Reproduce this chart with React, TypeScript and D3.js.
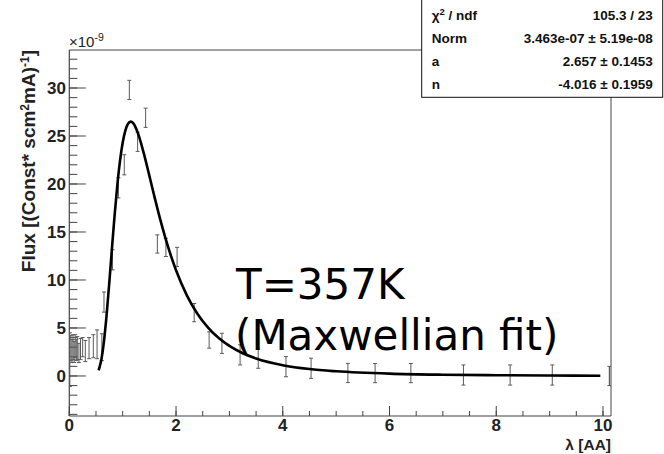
import React from "react";
import * as d3 from "d3";

// Measured points: wavelength (AA), flux (x1e-9), error (x1e-9)
const lambdaValues = [
  0.01, 0.03, 0.05, 0.07, 0.09, 0.11, 0.13, 0.15, 0.18, 0.21, 0.25, 0.3, 0.37, 0.45, 0.52, 0.61,
  0.65, 0.81, 0.92, 1.03, 1.125, 1.28, 1.43, 1.65, 1.81, 2.02, 2.34, 2.62, 2.86, 3.2, 3.54,
  4.06, 4.53, 5.22, 5.73, 6.4, 7.385, 8.26, 9.05, 10.12,
];
const fluxValues = [
  1.7, 2.9, 2.6, 3.0, 2.5, 3.1, 2.7, 2.9, 2.4, 2.8, 3.0, 2.6, 2.9, 3.1, 3.3, 3.0,
  7.7, 12.1, 19.6, 22.0, 29.8, 24.4, 26.9, 13.75, 13.4, 12.4, 6.6, 3.75, 3.4, 2.2, 1.8,
  0.97, 0.8, 0.31, 0.3, 0.3, 0.1, 0.1, 0.1, 0.0,
];
const fluxErrors = [
  2.8, 1.3, 1.2, 1.3, 1.1, 1.2, 1.1, 1.2, 1.0, 1.1, 1.0, 1.1, 1.1, 1.2, 1.5, 1.4,
  1.05, 1.05, 1.05, 1.05, 1.0, 1.0, 1.0, 0.95, 0.95, 1.0, 0.95, 0.85, 1.05, 1.05, 1.0,
  1.05, 1.05, 1.0, 1.0, 1.0, 1.05, 1.05, 1.05, 1.0,
];

// Fit curve
const fitX = [
  0.55, 0.6, 0.65, 0.7, 0.75, 0.8, 0.85, 0.9, 0.95, 1.0, 1.05, 1.1, 1.15, 1.2, 1.3, 1.4, 1.5,
  1.6, 1.7, 1.8, 2.0, 2.2, 2.4, 2.6, 2.8, 3.0, 3.25, 3.5, 4.0, 4.5, 5, 6, 7, 8, 9, 9.95,
];
const fitY = [
  0.59, 1.68, 3.63, 6.41, 9.76, 13.36, 16.81, 19.89, 22.41, 24.3, 25.57, 26.28, 26.5, 26.32,
  25.07, 23.11, 20.87, 18.58, 16.39, 14.39, 11.01, 8.43, 6.49, 5.04, 3.95, 3.13, 2.37, 1.82,
  1.12, 0.72, 0.49, 0.24, 0.13, 0.08, 0.05, 0.03,
];

const xMajorTicks = [0, 2, 4, 6, 8, 10];
const yMajorTicks = [0, 5, 10, 15, 20, 25, 30];

const statsLabels = ["χ", "Norm", "a", "n"];
const statsValues = ["105.3 / 23", "3.463e-07 ± 5.19e-08", "2.657 ± 0.1453", "-4.016 ± 0.1959"];

const W = 664;
const H = 454;
const L = 69.3, R = 611, T = 50, B = 416;

export default function App() {
  const x = d3.scaleLinear().domain([0, 10.15]).range([L, R]);
  const y = d3.scaleLinear().domain([-4.17, 33.96]).range([B, T]);

  const xMinor = d3.range(0, 10.01, 0.5);
  const yMinor = d3.range(-4, 34, 1);

  const line = d3
    .line<number>()
    .x((_, i) => x(fitX[i]))
    .y((d) => y(d))
    .curve(d3.curveMonotoneX);

  const font = "'Liberation Sans', Arial, Helvetica, sans-serif";
  const axisColor = "#444";
  const barColor = "#5a5a5a";
  const last = lambdaValues.length - 1;

  return (
    <svg
      width={W}
      height={H}
      style={{ position: "absolute", left: 0, top: 0, background: "#fff" }}
      fontFamily={font}
    >
      <rect x={0} y={0} width={W} height={H} fill="#fff" />
      <defs>
        <clipPath id="plotclip">
          <rect x={L} y={T} width={R - L} height={B - T} />
        </clipPath>
      </defs>

      {/* frame */}
      <line x1={L} x2={R} y1={T} y2={T} stroke={axisColor} strokeWidth={1} />
      <line x1={R} x2={R} y1={T} y2={B} stroke={axisColor} strokeWidth={1} />
      <line x1={L} x2={R} y1={B} y2={B} stroke={axisColor} strokeWidth={1.2} />
      <line x1={L} x2={L} y1={T} y2={B} stroke={axisColor} strokeWidth={1.2} />

      {/* y ticks */}
      {yMinor.map((v) => (
        <line key={"ym" + v} x1={L} x2={L + 8} y1={y(v)} y2={y(v)} stroke={axisColor} strokeWidth={1} />
      ))}
      {yMajorTicks.map((v) => (
        <g key={"yM" + v}>
          <line x1={L} x2={L + 16.5} y1={y(v)} y2={y(v)} stroke={axisColor} strokeWidth={1} />
          <text x={66} y={y(v) + 6} textAnchor="end" fontSize={17} fontWeight="bold" fill="#222">
            {v}
          </text>
        </g>
      ))}

      {/* x ticks */}
      {xMinor.map((v) => (
        <line key={"xm" + v} x1={x(v)} x2={x(v)} y1={B} y2={B - 5} stroke={axisColor} strokeWidth={1} />
      ))}
      {xMajorTicks.map((v) => (
        <g key={"xM" + v}>
          <line x1={x(v)} x2={x(v)} y1={B} y2={B - 10} stroke={axisColor} strokeWidth={1} />
          <text x={x(v)} y={431} textAnchor="middle" fontSize={17} fontWeight="bold" fill="#222">
            {v}
          </text>
        </g>
      ))}

      {/* exponent */}
      <text x={69} y={47} fontSize={15} fill="#222">
        ×10
        <tspan dy={-6} fontSize={10.5}>-9</tspan>
      </text>

      {/* axis titles */}
      <text
        transform={`translate(35,${T}) rotate(-90)`}
        textAnchor="end"
        fontSize={19}
        fontWeight="bold"
        fill="#222"
      >
        Flux [(Const* scm
        <tspan dy={-6} fontSize={12}>2</tspan>
        <tspan dy={6}>mA)</tspan>
        <tspan dy={-6} fontSize={12}>-1</tspan>
        <tspan dy={6}>]</tspan>
      </text>
      <text x={R} y={450} textAnchor="end" fontSize={15.5} fontWeight="bold" fill="#222">
        λ [AA]
      </text>

      {/* error bars */}
      <g clipPath="url(#plotclip)">
        {lambdaValues.map((lx, i) => {
          const cx = x(lx);
          const y1 = y(fluxValues[i] + fluxErrors[i]);
          const y0 = y(fluxValues[i] - fluxErrors[i]);
          return (
            <g key={"e" + i} stroke={barColor} strokeWidth={1}>
              <line x1={cx} x2={cx} y1={y1} y2={y0} />
              <line x1={cx - 2} x2={cx + 2} y1={y1} y2={y1} />
              <line x1={cx - 2} x2={cx + 2} y1={y0} y2={y0} />
            </g>
          );
        })}
      </g>
      <line
        x1={x(lambdaValues[last])}
        x2={x(lambdaValues[last])}
        y1={y(fluxValues[last] + fluxErrors[last])}
        y2={y(fluxValues[last] - fluxErrors[last])}
        stroke={barColor}
        strokeWidth={1}
      />

      {/* fit curve */}
      <path d={line(fitY) || ""} fill="none" stroke="#000" strokeWidth={2.6} strokeLinejoin="round" />

      {/* annotation */}
      <text x={236} y={299} fontSize={42} fontFamily="'DejaVu Sans', Verdana, sans-serif" fill="#000">
        T=357K
      </text>
      <text x={235} y={350} fontSize={42} fontFamily="'DejaVu Sans', Verdana, sans-serif" fill="#000">
        (Maxwellian fit)
      </text>

      {/* stats box */}
      <rect x={421.7} y={-5} width={241} height={102.3} fill="#fff" stroke="#111" strokeWidth={1} />
      {statsLabels.map((lab, i) => {
        const by = 20 + i * 23;
        return (
          <g key={"s" + i}>
            <text x={431.7} y={by} fontSize={13.5} fontWeight="bold" fill="#111">
              {lab}
              {i === 0 && (
                <>
                  <tspan dy={-5} fontSize={9.5}>2</tspan>
                  <tspan dy={5}> / ndf</tspan>
                </>
              )}
            </text>
            <text x={652.7} y={by} textAnchor="end" fontSize={13.5} fontWeight="bold" fill="#111">
              {statsValues[i]}
            </text>
          </g>
        );
      })}
    </svg>
  );
}
